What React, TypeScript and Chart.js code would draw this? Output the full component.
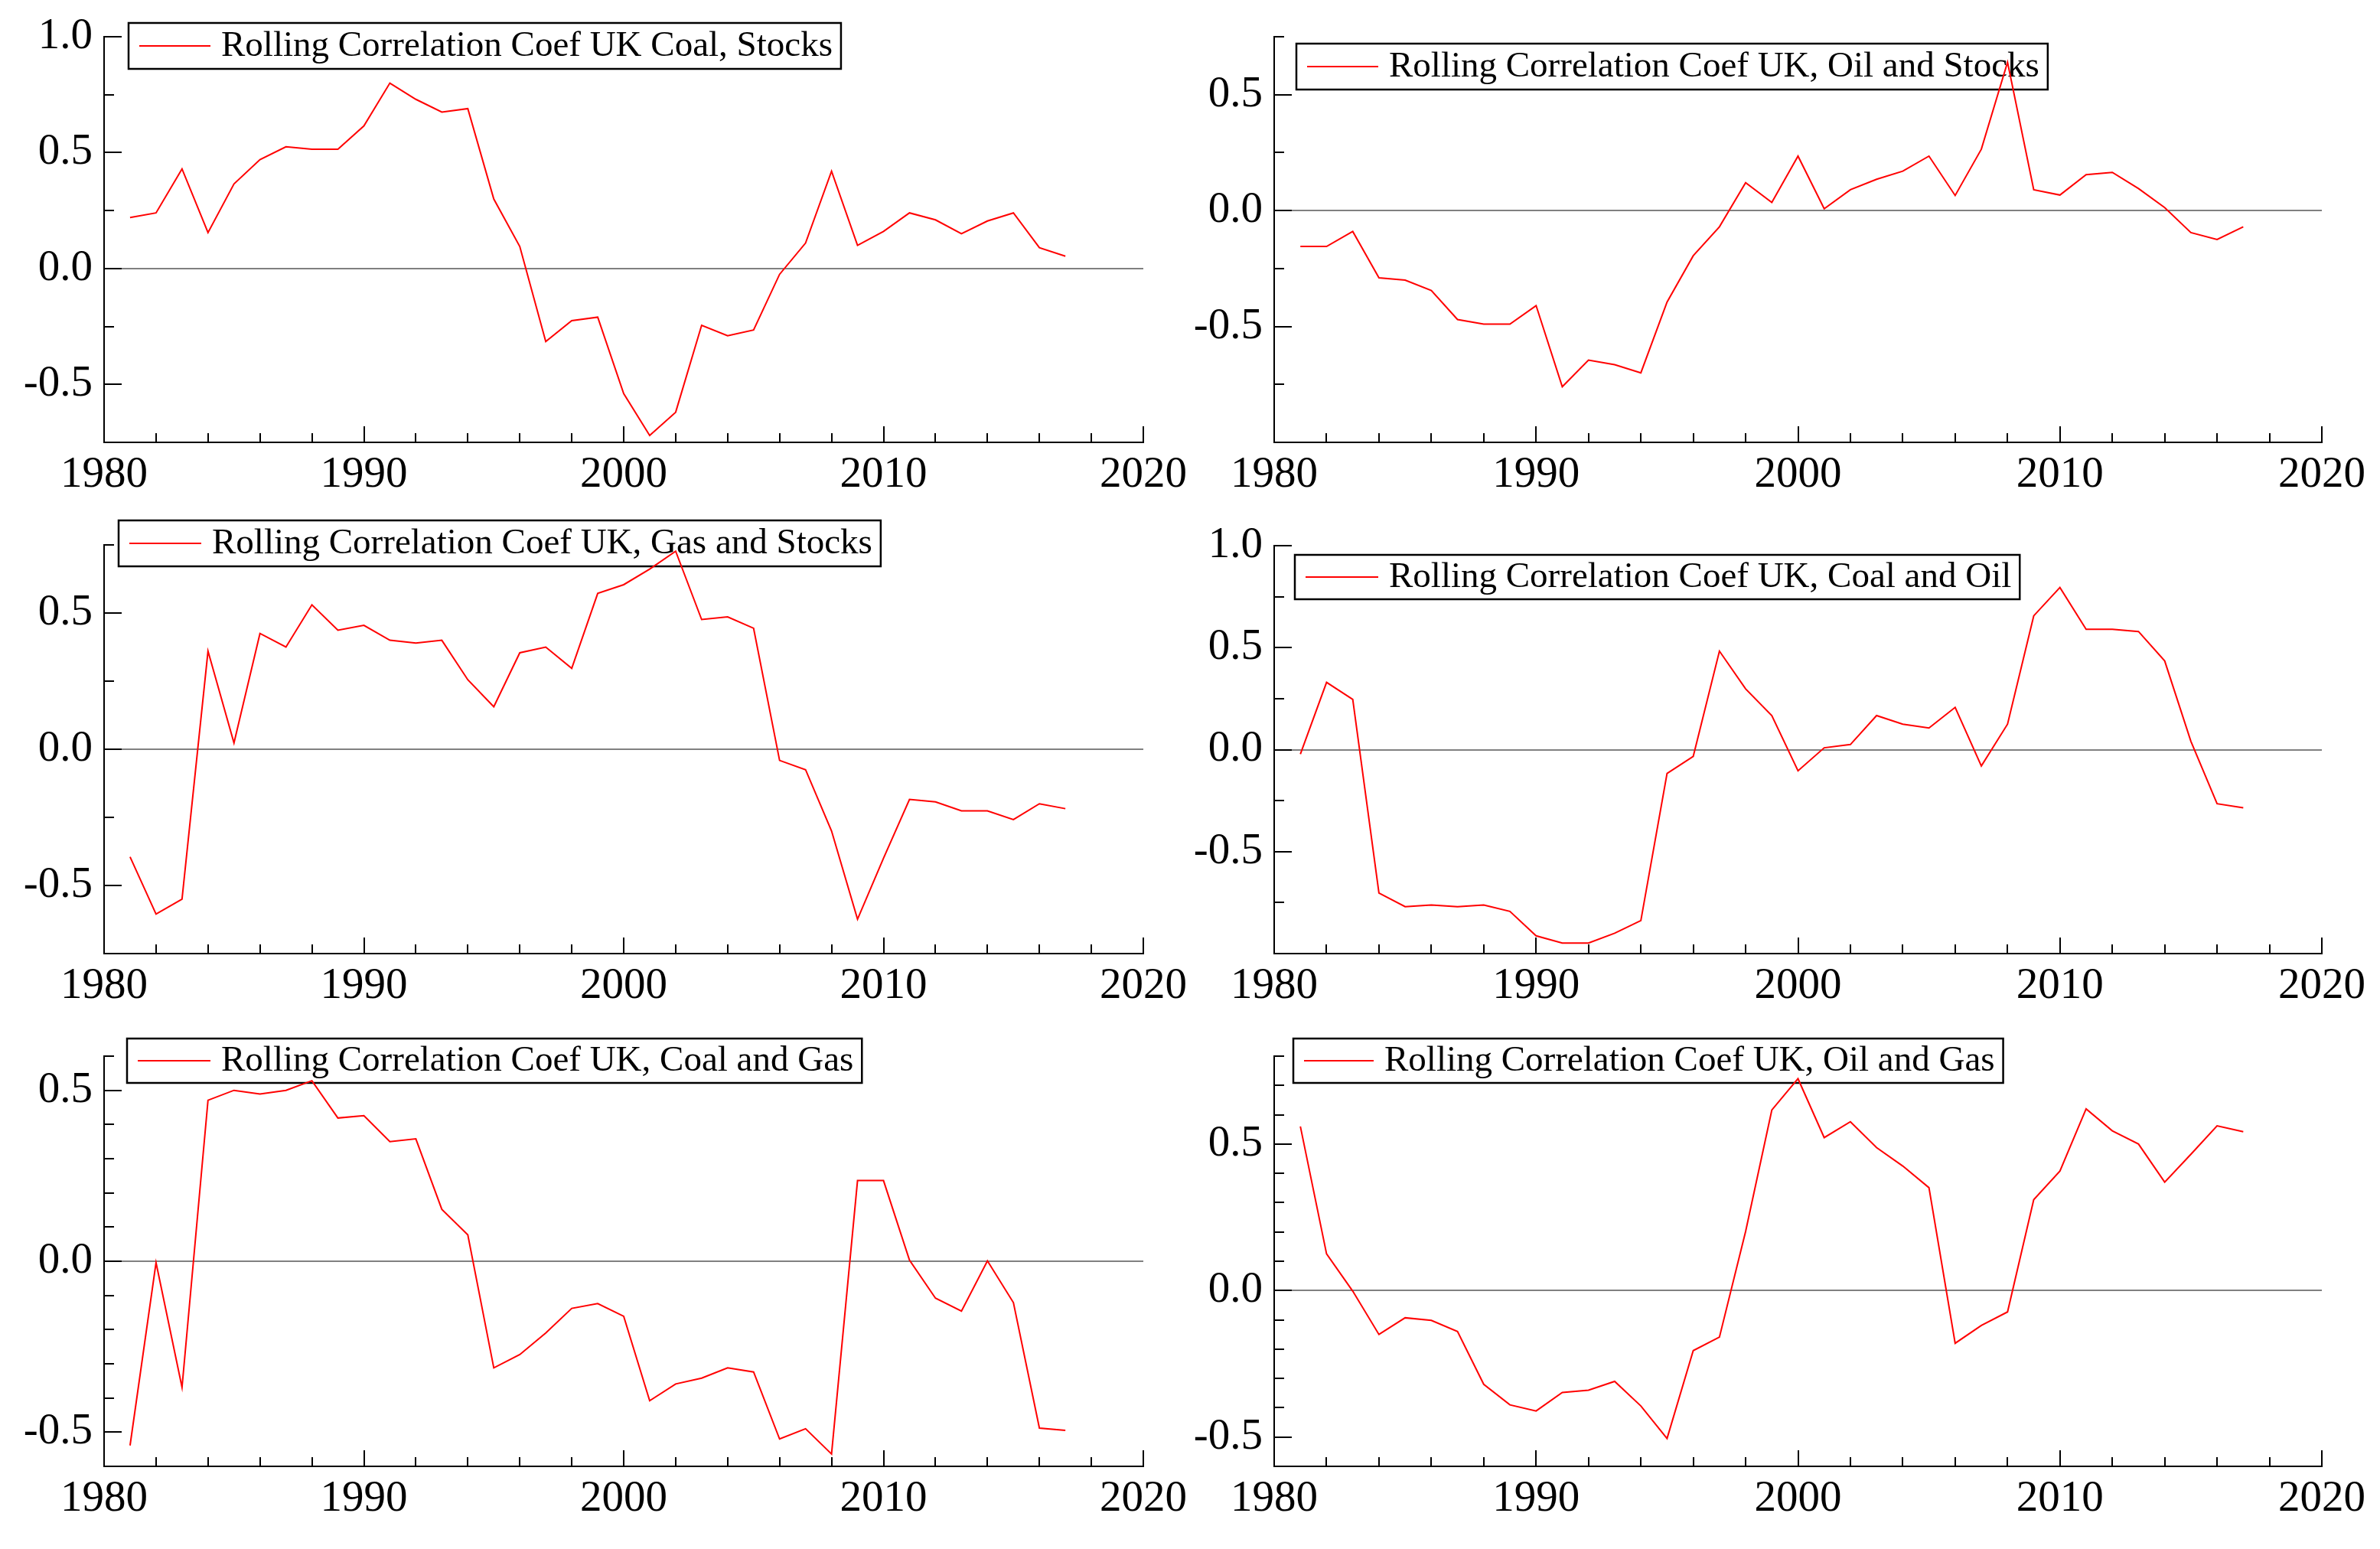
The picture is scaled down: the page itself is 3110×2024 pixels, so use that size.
import React, { useEffect, useRef } from "react";
import { Chart, registerables } from "chart.js";

Chart.register(...registerables);

// ---------------- data ----------------
const YEARS = [
  1981, 1982, 1983, 1984, 1985, 1986, 1987, 1988, 1989, 1990,
  1991, 1992, 1993, 1994, 1995, 1996, 1997, 1998, 1999, 2000,
  2001, 2002, 2003, 2004, 2005, 2006, 2007, 2008, 2009, 2010,
  2011, 2012, 2013, 2014, 2015, 2016, 2017,
];

const COAL_STOCKS = [
  0.22, 0.24, 0.43, 0.155, 0.365, 0.47, 0.525, 0.515, 0.515, 0.615,
  0.8, 0.73, 0.675, 0.69, 0.3, 0.095, -0.315, -0.225, -0.21, -0.54,
  -0.72, -0.62, -0.245, -0.29, -0.265, -0.025, 0.11, 0.42, 0.1, 0.16,
  0.24, 0.21, 0.15, 0.205, 0.24, 0.09, 0.053,
];

const OIL_STOCKS = [
  -0.155, -0.155, -0.09, -0.29, -0.3, -0.345, -0.47, -0.49, -0.49, -0.41,
  -0.76, -0.645, -0.665, -0.7, -0.395, -0.195, -0.07, 0.12, 0.035, 0.235,
  0.008, 0.09, 0.135, 0.17, 0.235, 0.065, 0.265, 0.64, 0.09, 0.067,
  0.155, 0.165, 0.095, 0.013, -0.095, -0.125, -0.07,
];

const GAS_STOCKS = [
  -0.395, -0.605, -0.55, 0.36, 0.023, 0.425, 0.375, 0.53, 0.437, 0.455,
  0.4, 0.39, 0.4, 0.255, 0.156, 0.354, 0.375, 0.297, 0.572, 0.604,
  0.661, 0.727, 0.476, 0.486, 0.444, -0.041, -0.075, -0.3, -0.624, -0.4,
  -0.184, -0.193, -0.226, -0.226, -0.258, -0.2, -0.218,
];

const COAL_OIL = [
  -0.022, 0.33, 0.246, -0.703, -0.77, -0.762, -0.77, -0.762, -0.793, -0.913,
  -0.948, -0.948, -0.9, -0.838, -0.117, -0.033, 0.483, 0.298, 0.167, -0.104,
  0.009, 0.025, 0.167, 0.125, 0.106, 0.207, -0.08, 0.125, 0.656, 0.795,
  0.59, 0.59, 0.579, 0.435, 0.041, -0.265, -0.285,
];

const COAL_GAS = [
  -0.539, -0.004, -0.369, 0.471, 0.5, 0.489, 0.5, 0.528, 0.419, 0.426,
  0.35, 0.358, 0.152, 0.077, -0.312, -0.273, -0.21, -0.138, -0.124, -0.161,
  -0.408, -0.359, -0.342, -0.312, -0.324, -0.52, -0.49, -0.564, 0.236, 0.236,
  0.003, -0.108, -0.146, 0.001, -0.121, -0.488, -0.495,
];

const OIL_GAS = [
  0.56, 0.125, -0.002, -0.15, -0.093, -0.102, -0.14, -0.32, -0.39, -0.411,
  -0.348, -0.34, -0.31, -0.394, -0.505, -0.205, -0.159, 0.202, 0.616, 0.723,
  0.522, 0.576, 0.488, 0.425, 0.351, -0.18, -0.119, -0.073, 0.31, 0.408,
  0.62, 0.545, 0.5, 0.37, 0.465, 0.562, 0.542,
];

const SERIES_LABELS = [
  "Rolling Correlation Coef UK Coal, Stocks",
  "Rolling Correlation Coef UK, Oil and Stocks",
  "Rolling Correlation Coef UK, Gas and Stocks",
  "Rolling Correlation Coef UK, Coal and Oil",
  "Rolling Correlation Coef UK, Coal and Gas",
  "Rolling Correlation Coef UK, Oil and Gas",
];

const X_LABEL_TICKS = [1980, 1990, 2000, 2010, 2020];
const X_MINOR_TICKS = [
  1982, 1984, 1986, 1988, 1992, 1994, 1996, 1998,
  2002, 2004, 2006, 2008, 2012, 2014, 2016, 2018,
];

const Y_LABELS_TO_1 = [-0.5, 0, 0.5, 1.0];
const Y_LABELS_HALF = [-0.5, 0, 0.5];
const Y_MINOR_P1 = [-0.25, 0.25, 0.75];
const Y_MINOR_QUARTERS = [-0.75, -0.25, 0.25, 0.75];
const Y_MINOR_P3 = [-0.25, 0.25, 0.75];
const Y_MINOR_P5 = [-0.4, -0.3, -0.2, -0.1, 0.1, 0.2, 0.3, 0.4, 0.6];
const Y_MINOR_P6 = [-0.4, -0.3, -0.2, -0.1, 0.1, 0.2, 0.3, 0.4, 0.6, 0.7, 0.8];

// ---------------- layout / style ----------------
const FONT_FAMILY = '"Liberation Serif", "Times New Roman", Times, serif';
const TICK_FONT = 57;
const LEGEND_FONT = 47;
const AXIS_W = 136;
const AXIS_H = 100;
const PAD_T = 70;
const PAD_R = 80;
const RED = "#ff0000";

type PanelCfg = {
  label: string;
  values: number[];
  yMin: number;
  yMax: number;
  yLabels: number[];
  yMinor: number[];
  area: { l: number; t: number; r: number; b: number };
  legend: { x: number; y: number; h: number; textX: number };
};

const PANELS: PanelCfg[] = [
  {
    label: SERIES_LABELS[0], values: COAL_STOCKS, yMin: -0.75, yMax: 1.0,
    yLabels: Y_LABELS_TO_1, yMinor: Y_MINOR_P1,
    area: { l: 136, t: 48, r: 1494, b: 578 },
    legend: { x: 168, y: 30, h: 60, textX: 289 },
  },
  {
    label: SERIES_LABELS[1], values: OIL_STOCKS, yMin: -1.0, yMax: 0.75,
    yLabels: Y_LABELS_HALF, yMinor: Y_MINOR_QUARTERS,
    area: { l: 1665, t: 48, r: 3034, b: 578 },
    legend: { x: 1694, y: 57, h: 60, textX: 1815 },
  },
  {
    label: SERIES_LABELS[2], values: GAS_STOCKS, yMin: -0.75, yMax: 0.75,
    yLabels: Y_LABELS_HALF, yMinor: Y_MINOR_P3,
    area: { l: 136, t: 712, r: 1494, b: 1246 },
    legend: { x: 155, y: 680, h: 60, textX: 277 },
  },
  {
    label: SERIES_LABELS[3], values: COAL_OIL, yMin: -1.0, yMax: 1.0,
    yLabels: Y_LABELS_TO_1, yMinor: Y_MINOR_QUARTERS,
    area: { l: 1665, t: 713, r: 3034, b: 1246 },
    legend: { x: 1692, y: 725, h: 58, textX: 1815 },
  },
  {
    label: SERIES_LABELS[4], values: COAL_GAS, yMin: -0.6, yMax: 0.6,
    yLabels: Y_LABELS_HALF, yMinor: Y_MINOR_P5,
    area: { l: 136, t: 1380, r: 1494, b: 1916 },
    legend: { x: 166, y: 1357, h: 58, textX: 289 },
  },
  {
    label: SERIES_LABELS[5], values: OIL_GAS, yMin: -0.6, yMax: 0.8,
    yLabels: Y_LABELS_HALF, yMinor: Y_MINOR_P6,
    area: { l: 1665, t: 1380, r: 3034, b: 1916 },
    legend: { x: 1690, y: 1357, h: 58, textX: 1809 },
  },
];

function Panel({ p }: { p: PanelCfg }) {
  const ref = useRef<HTMLCanvasElement | null>(null);
  const cw = p.area.r - p.area.l + AXIS_W + PAD_R;
  const ch = p.area.b - p.area.t + PAD_T + AXIS_H;
  const left = p.area.l - AXIS_W;
  const top = p.area.t - PAD_T;

  useEffect(() => {
    const canvas = ref.current;
    if (!canvas) return;

    const legendPlugin = {
      id: "boxLegend",
      beforeDatasetsDraw(chart: any) {
        const ctx = chart.ctx as CanvasRenderingContext2D;
        const lg = p.legend;
        const ds = chart.data.datasets[0];
        ctx.save();
        ctx.font = `${LEGEND_FONT}px ${FONT_FAMILY}`;
        const tw = ctx.measureText(ds.label).width;
        const x0 = lg.x - left;
        const y0 = lg.y - top;
        const tx = lg.textX - left;
        const w = tx - x0 + tw + 11;
        const cy = y0 + lg.h / 2;
        ctx.strokeStyle = "#000";
        ctx.lineWidth = 2.5;
        ctx.strokeRect(x0, y0, w, lg.h);
        ctx.strokeStyle = ds.borderColor;
        ctx.lineWidth = 2;
        ctx.beginPath();
        ctx.moveTo(x0 + 14, cy);
        ctx.lineTo(tx - 14, cy);
        ctx.stroke();
        ctx.fillStyle = "#000";
        ctx.textAlign = "left";
        ctx.textBaseline = "middle";
        ctx.fillText(ds.label, tx, cy + 1);
        ctx.restore();
      },
    };

    const ticksPlugin = {
      id: "innerTicks",
      beforeDatasetsDraw(chart: any) {
        const ctx = chart.ctx as CanvasRenderingContext2D;
        const a = chart.chartArea;
        const xs = chart.scales.x;
        const ys = chart.scales.y;
        ctx.save();
        ctx.strokeStyle = "#000";
        ctx.lineWidth = 2;
        const hTick = (v: number, len: number) => {
          const py = Math.round(ys.getPixelForValue(v));
          ctx.beginPath();
          ctx.moveTo(a.left, py);
          ctx.lineTo(a.left + len, py);
          ctx.stroke();
        };
        const vTick = (v: number, len: number) => {
          const px = Math.round(xs.getPixelForValue(v));
          ctx.beginPath();
          ctx.moveTo(px, a.bottom);
          ctx.lineTo(px, a.bottom - len);
          ctx.stroke();
        };
        p.yLabels.forEach((v) => hTick(v, 23));
        p.yMinor.forEach((v) => hTick(v, 13));
        X_LABEL_TICKS.forEach((v) => vTick(v, 21));
        X_MINOR_TICKS.forEach((v) => vTick(v, 12));
        ctx.restore();
      },
    };

    const chart = new Chart(canvas, {
      type: "line",
      data: {
        datasets: [
          {
            label: p.label,
            data: YEARS.map((yr, i) => ({ x: yr, y: p.values[i] })),
            borderColor: RED,
            borderWidth: 2,
            pointRadius: 0,
            tension: 0,
            fill: false,
          },
        ],
      },
      options: {
        animation: false,
        responsive: false,
        events: [],
        layout: { padding: { left: 0, top: PAD_T, right: PAD_R, bottom: 0 } },
        plugins: {
          legend: { display: false },
          tooltip: { enabled: false },
        },
        scales: {
          x: {
            type: "linear",
            min: 1980,
            max: 2020,
            afterBuildTicks: (s: any) => {
              s.ticks = X_LABEL_TICKS.map((v) => ({ value: v }));
            },
            afterFit: (s: any) => {
              s.height = AXIS_H;
            },
            ticks: {
              callback: (v: any) => String(v),
              font: { family: FONT_FAMILY, size: TICK_FONT },
              color: "#000",
              padding: 9,
              maxRotation: 0,
              minRotation: 0,
              autoSkip: false,
            },
            grid: { color: "transparent", drawTicks: false },
            border: { display: true, color: "#000", width: 2 },
          },
          y: {
            type: "linear",
            min: p.yMin,
            max: p.yMax,
            afterBuildTicks: (s: any) => {
              s.ticks = p.yLabels.map((v) => ({ value: v }));
            },
            afterFit: (s: any) => {
              s.width = AXIS_W;
            },
            ticks: {
              callback: (v: any) => Number(v).toFixed(1),
              font: { family: FONT_FAMILY, size: TICK_FONT },
              color: "#000",
              padding: 15,
              autoSkip: false,
            },
            grid: {
              color: (c: any) =>
                c.tick && Math.abs(c.tick.value) < 1e-9 ? "#808080" : "transparent",
              lineWidth: 2,
              drawTicks: false,
            },
            border: { display: true, color: "#000", width: 2 },
          },
        },
      },
      plugins: [legendPlugin, ticksPlugin],
    } as any);

    return () => chart.destroy();
  }, []);

  return (
    <canvas
      ref={ref}
      width={cw}
      height={ch}
      style={{ position: "absolute", left, top, width: cw, height: ch, display: "block" }}
    />
  );
}

export default function App() {
  return (
    <div
      style={{
        position: "fixed",
        left: 0,
        top: 0,
        width: 3110,
        height: 2024,
        background: "#ffffff",
        overflow: "hidden",
      }}
    >
      {PANELS.map((p, i) => (
        <Panel key={i} p={p} />
      ))}
    </div>
  );
}
